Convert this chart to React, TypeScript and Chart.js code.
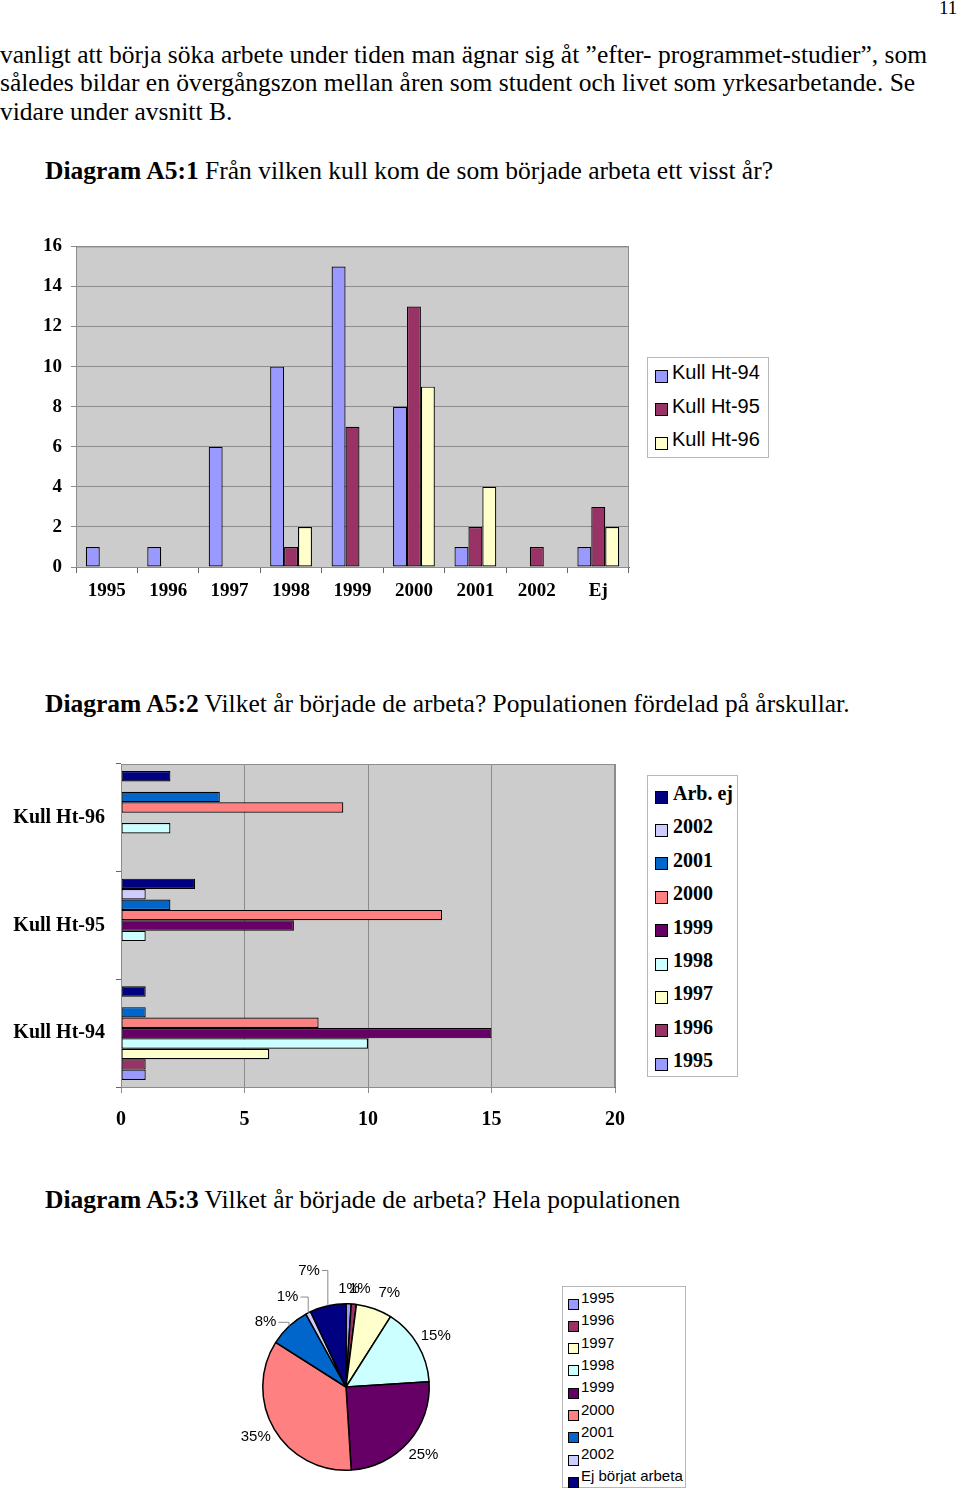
import React, { useEffect, useRef } from "react";
import { Chart, registerables } from "chart.js";
Chart.register(...registerables);

const SERIF = '"Liberation Serif", "Times New Roman", serif';
const SANS = '"Liberation Sans", Arial, sans-serif';

// ---- Diagram A5:1 ----
const years = ["1995", "1996", "1997", "1998", "1999", "2000", "2001", "2002", "Ej"];
const kull94 = [1, 1, 6, 10, 15, 8, 1, 0, 1];
const kull95 = [0, 0, 0, 1, 7, 13, 2, 1, 3];
const kull96 = [0, 0, 0, 2, 0, 9, 4, 0, 2];
const kullNames = ["Kull Ht-94", "Kull Ht-95", "Kull Ht-96"];
const kullColors = ["#9999FF", "#993366", "#FFFFCC"];

// ---- Diagram A5:2 ----
const kullCats = ["Kull Ht-96", "Kull Ht-95", "Kull Ht-94"];
const startLabels = ["Arb. ej", "2002", "2001", "2000", "1999", "1998", "1997", "1996", "1995"];
const startArbEj = [2, 3, 1];
const start2002 = [0, 1, 0];
const start2001 = [4, 2, 1];
const start2000 = [9, 13, 8];
const start1999 = [0, 7, 15];
const start1998 = [2, 1, 10];
const start1997 = [0, 0, 6];
const start1996 = [0, 0, 1];
const start1995 = [0, 0, 1];
const startSeries = [startArbEj, start2002, start2001, start2000, start1999, start1998, start1997, start1996, start1995];
const startColors = ["#000080", "#CCCCFF", "#0066CC", "#FF8080", "#660066", "#CCFFFF", "#FFFFCC", "#993366", "#9999FF"];
const xTicks2 = [0, 5, 10, 15, 20];

// ---- Diagram A5:3 ----
const pieLabels = ["1995", "1996", "1997", "1998", "1999", "2000", "2001", "2002", "Ej börjat arbeta"];
const piePercent = [1, 1, 7, 15, 25, 35, 8, 1, 7];
const pieColors = ["#9999FF", "#993366", "#FFFFCC", "#CCFFFF", "#660066", "#FF8080", "#0066CC", "#CCCCFF", "#000080"];

const plotBg = {
  id: "plotBg",
  beforeDraw(chart: any, _a: any, opts: any) {
    const { ctx, chartArea: a } = chart;
    ctx.save();
    ctx.fillStyle = opts.color;
    ctx.fillRect(a.left, a.top, a.right - a.left, a.bottom - a.top);
    ctx.restore();
  },
  afterDraw(chart: any, _a: any, opts: any) {
    const { ctx, chartArea: a } = chart;
    ctx.save();
    ctx.strokeStyle = opts.border;
    ctx.lineWidth = 1;
    ctx.strokeRect(a.left + 0.5, a.top + 0.5, a.right - a.left - 1, a.bottom - a.top);
    ctx.restore();
  },
};

const pieLabelPlugin = {
  id: "pieLabels",
  afterDatasetsDraw(chart: any, _a: any, opts: any) {
    const meta = chart.getDatasetMeta(0);
    const ctx = chart.ctx;
    const data = chart.data.datasets[0].data;
    ctx.save();
    ctx.font = `15px ${SANS}`;
    ctx.fillStyle = "#000";
    ctx.textAlign = "center";
    ctx.textBaseline = "middle";
    meta.data.forEach((arc: any, i: number) => {
      const p = arc.getProps(["x", "y", "startAngle", "endAngle", "outerRadius"], true);
      const mid = (p.startAngle + p.endAngle) / 2;
      const adj = opts.adjust[i] || {};
      const ang = mid + ((adj.dA || 0) * Math.PI) / 180;
      const R = p.outerRadius + opts.offset + (adj.dR || 0);
      const lx = p.x + Math.cos(ang) * R;
      const ly = p.y + Math.sin(ang) * R;
      const txt = data[i] + "%";
      if (adj.leader) {
        const w = ctx.measureText(txt).width;
        const ex = p.x + Math.cos(mid) * p.outerRadius;
        const ey = p.y + Math.sin(mid) * p.outerRadius;
        ctx.strokeStyle = "#8a8a8a";
        ctx.lineWidth = 1;
        ctx.beginPath();
        ctx.moveTo(lx + w / 2 + 2, ly);
        ctx.lineTo(ex, ly);
        ctx.lineTo(ex, ey);
        ctx.stroke();
      }
      ctx.fillText(txt, lx, ly);
    });
    ctx.restore();
  },
};

function LegendBox(props: {
  left: number; top: number; width: number; height: number;
  items: string[]; colors: string[]; font: string; weight: string;
  firstY: number; step: number; sq: number; textX: number; sqX: number;
}) {
  const { left, top, width, height, items, colors, font, weight, firstY, step, sq, textX, sqX } = props;
  return (
    <div style={{ position: "absolute", left, top, width, height, border: "1px solid #b8b8b8", boxSizing: "border-box", background: "#fff" }}>
      {items.map((t, i) => (
        <div key={i}>
          <div style={{ position: "absolute", left: sqX, top: firstY + i * step - sq / 2, width: sq, height: sq, background: colors[i], border: "1px solid #000", boxSizing: "border-box" }} />
          <div style={{ position: "absolute", left: textX, top: firstY + i * step - 15, height: 30, lineHeight: "30px", font, fontWeight: weight as any, whiteSpace: "nowrap", color: "#000" }}>{t}</div>
        </div>
      ))}
    </div>
  );
}

const textStyle: React.CSSProperties = {
  position: "absolute",
  fontFamily: SERIF,
  fontSize: 25.5,
  lineHeight: "28px",
  whiteSpace: "nowrap",
  color: "#000",
};

export default function App() {
  const c1 = useRef<HTMLCanvasElement>(null);
  const c2 = useRef<HTMLCanvasElement>(null);
  const c3 = useRef<HTMLCanvasElement>(null);

  useEffect(() => {
    const zeroBorder = (w: number) => (c: any) => (c.raw === 0 ? 0 : w);
    const ch1 = new Chart(c1.current!, {
      type: "bar",
      data: {
        labels: years,
        datasets: [kull94, kull95, kull96].map((d, i) => ({
          label: kullNames[i],
          data: d,
          backgroundColor: kullColors[i],
          borderColor: "#000",
          borderWidth: zeroBorder(1.2),
          borderSkipped: false,
          categoryPercentage: 0.68,
          barPercentage: 1,
        })),
      },
      options: {
        animation: false,
        responsive: false,
        events: [],
        layout: { padding: { top: 0, right: 11, left: 0, bottom: 0 } },
        plugins: { legend: { display: false }, tooltip: { enabled: false }, plotBg: { color: "#CCCCCC", border: "#8c8c8c" } } as any,
        scales: {
          x: {
            grid: { drawOnChartArea: false, drawTicks: true, tickLength: 6, color: "#666", offset: true },
            border: { color: "#666" },
            ticks: { font: { family: SERIF, size: 19, weight: "bold" }, color: "#000", padding: 7 },
            afterFit(s: any) { s.height = 43; },
          },
          y: {
            min: 0,
            max: 16,
            ticks: { stepSize: 2, font: { family: SERIF, size: 19, weight: "bold" }, color: "#000", padding: 9 },
            grid: { color: "#8c8c8c", tickLength: 5 },
            border: { color: "#666" },
            afterFit(s: any) { s.width = 76; },
          },
        },
      } as any,
      plugins: [plotBg],
    });

    const ch2 = new Chart(c2.current!, {
      type: "bar",
      data: {
        labels: kullCats,
        datasets: startSeries.map((d, i) => ({
          label: startLabels[i],
          data: d,
          backgroundColor: startColors[i],
          borderColor: "#000",
          borderWidth: zeroBorder(1.2),
          borderSkipped: false,
          categoryPercentage: 0.87,
          barPercentage: 1,
        })),
      },
      options: {
        indexAxis: "y",
        animation: false,
        responsive: false,
        events: [],
        layout: { padding: { top: 0, right: 25, left: 0, bottom: 0 } },
        plugins: { legend: { display: false }, tooltip: { enabled: false }, plotBg: { color: "#CCCCCC", border: "#8c8c8c" } } as any,
        scales: {
          x: {
            min: 0,
            max: 20,
            afterBuildTicks(s: any) { s.ticks = xTicks2.map((v) => ({ value: v })); },
            ticks: { font: { family: SERIF, size: 20, weight: "bold" }, color: "#000", padding: 15 },
            grid: { color: "#8c8c8c", tickLength: 6 },
            border: { color: "#666" },
            afterFit(s: any) { s.height = 63; },
          },
          y: {
            grid: { drawOnChartArea: false, offset: true, tickLength: 5, color: "#666" },
            border: { color: "#666" },
            ticks: { font: { family: SERIF, size: 20, weight: "bold" }, color: "#000", padding: 11 },
            afterFit(s: any) { s.width = 121; },
          },
        },
      } as any,
      plugins: [plotBg],
    });

    const ch3 = new Chart(c3.current!, {
      type: "pie",
      data: {
        labels: pieLabels,
        datasets: [{ data: piePercent, backgroundColor: pieColors, borderColor: "#000", borderWidth: 1.5 }],
      },
      options: {
        animation: false,
        responsive: false,
        events: [],
        layout: { padding: { left: 42, top: 53, right: 50, bottom: 19 } },
        plugins: {
          legend: { display: false },
          tooltip: { enabled: false },
          pieLabels: {
            offset: 20,
            adjust: [
              { dR: -5 },
              { dA: 2.6, dR: -4 },
              { dA: 5 },
              { dA: 1 },
              {},
              { dA: 1.5 },
              { dA: -8, leader: true },
              { dA: -6, dR: 4, leader: true },
              { dA: -5, dR: 19, leader: true },
            ],
          },
        } as any,
      } as any,
      plugins: [pieLabelPlugin],
    });

    return () => {
      ch1.destroy();
      ch2.destroy();
      ch3.destroy();
    };
  }, []);

  return (
    <div style={{ position: "absolute", left: 0, top: 0, width: 960, height: 1489, background: "#fff", overflow: "hidden" }}>
      <div style={{ ...textStyle, left: 939, top: -6, fontSize: 19 }}>11</div>
      <div style={{ ...textStyle, left: 0, top: 41 }}>vanligt att börja söka arbete under tiden man ägnar sig åt ”efter- programmet-studier”, som</div>
      <div style={{ ...textStyle, left: 0, top: 69 }}>således bildar en övergångszon mellan åren som student och livet som yrkesarbetande. Se</div>
      <div style={{ ...textStyle, left: 0, top: 98 }}>vidare under avsnitt B.</div>

      <div style={{ ...textStyle, left: 45, top: 157 }}><b>Diagram A5:1</b> Från vilken kull kom de som började arbeta ett visst år?</div>
      <canvas ref={c1} width={640} height={384} style={{ position: "absolute", left: 0, top: 226, width: 640, height: 384 }} />
      <LegendBox left={647} top={357} width={122} height={101} items={kullNames} colors={kullColors}
        font={`20px ${SANS}`} weight="normal" firstY={18} step={33.5} sq={13} sqX={7} textX={24} />

      <div style={{ ...textStyle, left: 45, top: 690 }}><b>Diagram A5:2</b> Vilket år började de arbeta? Populationen fördelad på årskullar.</div>
      <canvas ref={c2} width={640} height={409} style={{ position: "absolute", left: 0, top: 741, width: 640, height: 409 }} />
      <LegendBox left={647} top={775} width={91} height={302} items={startLabels} colors={startColors}
        font={`20px ${SERIF}`} weight="bold" firstY={21} step={33.4} sq={13} sqX={7} textX={25} />

      <div style={{ ...textStyle, left: 45, top: 1186 }}><b>Diagram A5:3</b> Vilket år började de arbeta? Hela populationen</div>
      <canvas ref={c3} width={260} height={240} style={{ position: "absolute", left: 220, top: 1250, width: 260, height: 240 }} />
      <LegendBox left={562} top={1286} width={124} height={202} items={pieLabels} colors={pieColors}
        font={`15px ${SANS}`} weight="normal" firstY={17} step={22.3} sq={11} sqX={5} textX={18} />
    </div>
  );
}
